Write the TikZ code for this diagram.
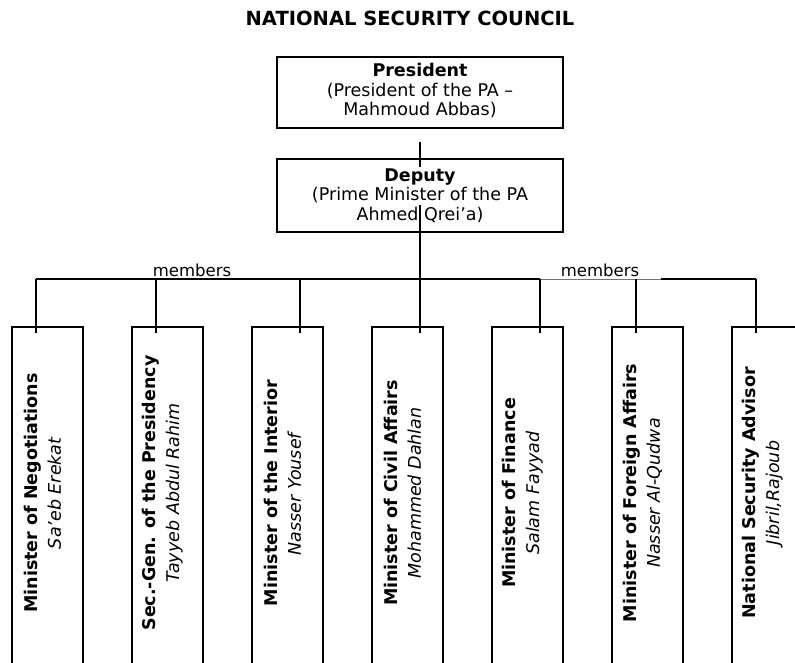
\documentclass[tikz,border=0pt]{standalone}
\usepackage{fontspec}
\setmainfont{DejaVu Sans}

\begin{document}
\begin{tikzpicture}[x=1pt,y=1pt,
  box/.style={draw=black,line width=1.6pt,fill=white,inner sep=0pt},
  link/.style={line width=1.6pt},
  thinlink/.style={line width=0.7pt,black!55},
  txt/.style={font=\fontsize{17.5}{19.5}\selectfont,inner sep=0pt,anchor=base},
  cover/.style={fill=white,text height=14pt,text depth=5pt},
  memtxt/.style={font=\fontsize{16.5}{18}\selectfont,inner sep=0pt,anchor=base},
  vtxt/.style={font=\fontsize{17.5}{23.5}\selectfont,align=center,inner sep=0pt,rotate=90}]
\path[use as bounding box,clip] (0,0) rectangle (795,-662);

\node[anchor=base,inner sep=0pt,font=\fontsize{19.5}{22}\selectfont\bfseries] (title) at (410,-25) {NATIONAL SECURITY COUNCIL};

\node[box,minimum width=286pt,minimum height=71pt] (pres) at (420,-92.5) {};
\node[box,minimum width=286pt,minimum height=73pt] (dep) at (420,-195.5) {};

\foreach \i in {1,...,7}
  \node[box,minimum width=71pt,minimum height=380pt,anchor=north] (m\i) at ({47.5+120*(\i-1)},-326) {};

\coordinate (top) at (420,-142);
\coordinate (end4) at (420,-333);
\draw[link] (top) -- (end4);

\coordinate (b1) at (36,-279);
\coordinate (b5) at (540,-279);
\coordinate (gap) at (661,-279);
\coordinate (b7) at (756,-279);
\draw[link] (b1) -- (b5);
\draw[thinlink] (b5) -- (gap);
\draw[link] (gap) -- (b7);

\foreach \x/\n in {36/1,156/2,300/3,540/5,636/6,756/7}{
  \coordinate (j\n) at (\x,-279);
  \coordinate (e\n) at (\x,-333);
  \draw[link] (j\n) -- (e\n);
}

\node[txt] (prestitle) at (420,-76) {\bfseries President};
\node[txt] (presrole) at (420,-96) {(President of the PA –};
\node[txt] (presname) at (420,-115) {Mahmoud Abbas)};

\node[txt,cover] (deptitle) at (420,-181) {\bfseries Deputy};
\node[txt,cover] (deprole) at (420,-200) {(Prime Minister of the PA};
\node[txt] (depname) at (420,-220) {Ahmed Qrei’a)};

\node[memtxt] (mem1) at (192,-276) {members};
\node[memtxt] (mem2) at (600,-276) {members};

\foreach \i/\role/\who in {1/Minister of Negotiations/Sa’eb Erekat,
    2/Sec.-Gen. of the Presidency/Tayyeb Abdul Rahim,
    3/Minister of the Interior/Nasser Yousef,
    4/Minister of Civil Affairs/Mohammed Dahlan,
    5/Minister of Finance/Salam Fayyad,
    6/Minister of Foreign Affairs/Nasser Al-Qudwa,
    7/National Security Advisor/{Jibril,Rajoub}}
  \node[vtxt] (t\i) at ({42.5+120*(\i-1)},-493) {\textbf{\role}\\\textit{\who}};
\end{tikzpicture}
\end{document}
